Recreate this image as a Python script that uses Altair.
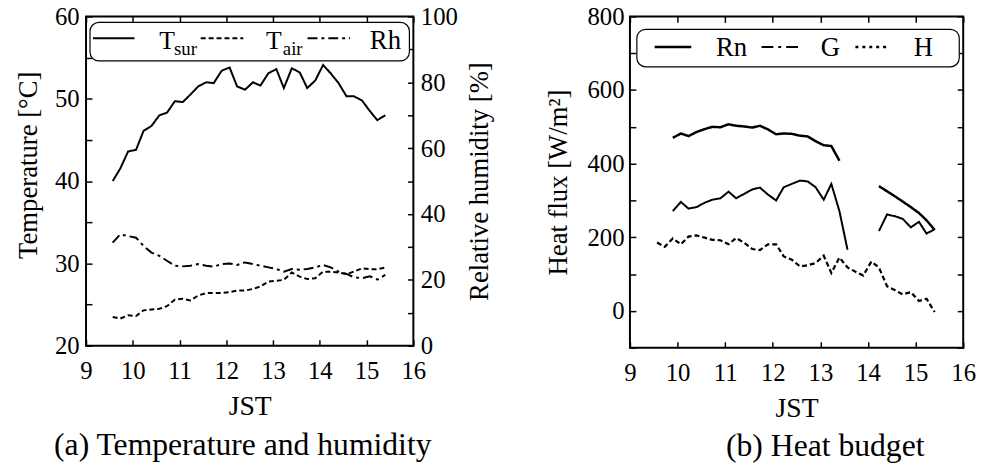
import altair as alt
import pandas as pd

FONT = "Liberation Serif"

# ---- data ----
times = [9.57, 9.73, 9.90, 10.07, 10.23, 10.40, 10.57, 10.73, 10.90, 11.07,
         11.23, 11.40, 11.57, 11.73, 11.90, 12.07, 12.23, 12.40, 12.57, 12.73,
         12.90, 13.07, 13.23, 13.40, 13.57, 13.73, 13.90, 14.07, 14.23, 14.40,
         14.57, 14.73, 14.90, 15.07, 15.23, 15.40]

t_sur = [40.0, 41.5, 43.6, 43.8, 46.1, 46.7, 48.0, 48.3, 49.7, 49.6,
         50.5, 51.5, 52.0, 51.9, 53.4, 53.8, 51.5, 51.1, 52.0, 51.6,
         53.1, 53.6, 51.3, 53.7, 53.2, 51.3, 52.2, 54.1, 53.1, 51.9,
         50.3, 50.3, 49.8, 48.5, 47.4, 48.0]
t_air = [23.5, 23.3, 23.7, 23.6, 24.3, 24.4, 24.5, 24.8, 25.6, 25.7,
         25.5, 26.1, 26.4, 26.4, 26.4, 26.5, 26.7, 26.7, 26.9, 27.2,
         27.8, 27.9, 28.0, 28.9, 28.4, 28.1, 28.2, 29.0, 29.0, 28.9,
         28.7, 29.0, 29.4, 29.3, 29.3, 29.5]
rh = [31.3, 33.8, 33.3, 32.8, 30.3, 28.3, 27.3, 25.8, 24.3, 24.1,
      24.3, 24.8, 24.3, 24.0, 24.8, 25.0, 24.5, 25.3, 24.8, 24.3,
      23.8, 23.3, 22.5, 23.3, 23.1, 23.3, 23.8, 24.5, 23.8, 22.5,
      21.8, 20.8, 20.5, 21.1, 20.1, 21.5]

rn = [None, None, 470, 482, 475, 486, 494, 500, 499, 507,
      503, 501, 498, 503, 493, 480, 482, 481, 476, 474,
      461, 450, 448, 408, None, None, None, None, 339, 325,
      311, 297, 282, 266, 246, 220]
g = [186, 174, 197, 181, 202, 205, 199, 193, 192, 181,
     198, 185, 168, 165, 181, 181, 148, 139, 121, 124,
     130, 150, 103, 145, 118, 107, 96, 134, 118, 67,
     56, 45, 51, 27, 33, -3]
h = [None, None, 271, 296, 278, 282, 294, 302, 306, 324,
     306, 318, 330, 335, 316, 300, 336, 345, 354, 352,
     336, 302, 345, 271, 166, None, None, None, 217, 262,
     257, 250, 227, 242, 210, 222]

hour_ticks = [9, 10, 11, 12, 13, 14, 15, 16]
temp_ticks = [20, 25, 30, 35, 40, 45, 50, 55, 60]
rh_ticks = [0, 10, 20, 30, 40, 50, 60, 70, 80, 90, 100]
flux_ticks = [-100, 0, 100, 200, 300, 400, 500, 600, 700, 800]


def long_df(series):
    rows = []
    for name, vals in series.items():
        seg = 0
        for t, v in zip(times, vals):
            if v is None:
                seg += 1
                continue
            rows.append({"JST": t, "value": v, "series": name, "seg": f"{name}-{seg}"})
    return pd.DataFrame(rows)


df_t = long_df({"T_sur": t_sur, "T_air": t_air})
df_rh = long_df({"Rh": rh})
df_b = long_df({"Rn": rn, "G": g, "H": h})
one = pd.DataFrame({"k": [0]})

TICK = 6
LBL = 25
TTL = 27
common = dict(labelFont=FONT, titleFont=FONT, labelFontSize=LBL, titleFontSize=TTL,
              labelColor="black", titleColor="black", tickColor="black", tickWidth=1.5,
              titleFontWeight="normal", grid=False, domain=False,
              tickSize=TICK, offset=-TICK)


def x_bottom():
    return alt.Axis(orient="bottom", values=hour_ticks, labelPadding=13, labelFlush=False,
                    labelOverlap=False, title="JST", titlePadding=10,
                    **{**common, "titleFontSize": 28})


def x_top():
    return alt.Axis(orient="top", values=hour_ticks, labels=False, title=None, **common)


xscale = alt.Scale(domain=[9, 16], nice=False, zero=False)


def legend_layers(box, items):
    layers = [alt.Chart(one).mark_rect(fill="white", stroke="black", strokeWidth=1.2,
                                       cornerRadius=9).encode(
        x=alt.value(box[0]), x2=alt.value(box[1]), y=alt.value(box[2]), y2=alt.value(box[3]))]
    for it in items:
        kind = it[0]
        if kind == "line":
            _, x1, x2, y, dash, w = it
            layers.append(alt.Chart(one).mark_rule(color="black", strokeWidth=w,
                                                   strokeDash=dash).encode(
                x=alt.value(x1), x2=alt.value(x2), y=alt.value(y)))
        else:
            _, x, y, txt, size = it
            layers.append(alt.Chart(one).mark_text(text=txt, font=FONT, fontSize=size,
                                                   align="left", baseline="alphabetic",
                                                   color="black").encode(
                x=alt.value(x), y=alt.value(y)))
    return layers


# ---- left panel ----
t_layer = alt.Chart(df_t).mark_line(color="black").encode(
    x=alt.X("JST:Q", scale=xscale, axis=x_bottom()),
    y=alt.Y("value:Q", scale=alt.Scale(domain=[20, 60], nice=False, zero=False),
            axis=alt.Axis(orient="left", values=temp_ticks, labelPadding=7,
                          labelExpr="datum.value % 10 == 0 ? datum.label : ''",
                          title="Temperature [°C]", titlePadding=12, titleY=150, **common)),
    strokeDash=alt.StrokeDash("series:N", scale=alt.Scale(domain=["T_sur", "T_air"],
                                                           range=[[1, 0], [5, 3]]), legend=None),
    strokeWidth=alt.value(2),
    detail="seg:N",
)

rh_layer = alt.Chart(df_rh).mark_line(color="black", strokeWidth=2, strokeDash=[10, 4, 3, 4]).encode(
    x=alt.X("JST:Q", scale=xscale, axis=x_top()),
    y=alt.Y("value:Q", scale=alt.Scale(domain=[0, 100], nice=False, zero=False),
            axis=alt.Axis(orient="right", values=rh_ticks, labelPadding=7,
                          labelExpr="datum.value % 20 == 0 ? datum.label : ''",
                          title="Relative humidity [%]", titleAngle=270, titleBaseline="top",
                          titlePadding=9, **common)),
    detail="seg:N",
)

left_legend = legend_layers(
    (4, 327, 6, 45),
    [("line", 7, 49, 22, [1, 0], 2),
     ("text", 74, 33, "T", 26), ("text", 89, 39, "sur", 19),
     ("line", 116, 159, 22, [5, 3], 2),
     ("text", 182, 33, "T", 26), ("text", 199, 39, "air", 19),
     ("line", 224, 267, 22, [10, 4, 3, 4], 2),
     ("text", 287, 33, "Rh", 27)])

left = alt.layer(t_layer, rh_layer, *left_legend).resolve_scale(
    y="independent").resolve_axis(x="independent", y="independent").properties(
    width=331, height=333,
    title=alt.TitleParams("(a) Temperature and humidity", orient="bottom", frame="group",
                          dx=-7, offset=9, font=FONT, fontSize=32, fontWeight="normal",
                          color="black"))

# ---- right panel ----
flux_scale = alt.Scale(domain=[-100, 800], nice=False, zero=False)
main = alt.Chart(df_b).mark_line(color="black").encode(
    x=alt.X("JST:Q", scale=xscale, axis=x_bottom()),
    y=alt.Y("value:Q", scale=flux_scale,
            axis=alt.Axis(orient="left", values=flux_ticks, labelPadding=6,
                          labelExpr="datum.value % 200 == 0 ? datum.label : ''",
                          title="Heat flux [W/m²]", titlePadding=15, **common)),
    strokeDash=alt.StrokeDash("series:N", scale=alt.Scale(domain=["Rn", "G", "H"],
                                                           range=[[1, 0], [12, 5, 3, 5], [3, 4]]),
                              legend=None),
    strokeWidth=alt.StrokeWidth("series:N", scale=alt.Scale(domain=["Rn", "G", "H"],
                                                             range=[2.5, 2, 2.5]), legend=None),
    detail="seg:N",
)
frame = alt.Chart(df_b).mark_point(opacity=0, size=1).encode(
    x=alt.X("JST:Q", scale=xscale, axis=x_top()),
    y=alt.Y("value:Q", scale=flux_scale,
            axis=alt.Axis(orient="right", values=flux_ticks, labels=False, title=None, **common)),
)

right_legend = legend_layers(
    (7, 333, 13, 51),
    [("line", 25, 62, 31, [1, 0], 2.5),
     ("text", 87, 40, "Rn", 27),
     ("line", 133, 172, 31, [12, 5, 3, 5], 2),
     ("text", 193, 40, "G", 27),
     ("line", 228, 262, 31, [3, 4], 2.5),
     ("text", 287, 40, "H", 27)])

right = alt.layer(main, frame, *right_legend).resolve_axis(
    x="independent", y="independent").properties(
    width=337, height=335,
    title=alt.TitleParams("(b) Heat budget", orient="bottom", frame="group",
                          dx=29, offset=9, font=FONT, fontSize=32, fontWeight="normal",
                          color="black"))

chart = alt.hconcat(left, right, spacing=50).properties(
    padding={"left": 14, "top": 1, "right": 5, "bottom": 0},
    background="white",
).configure(font=FONT).configure_view(stroke="black", strokeWidth=2)

chart.save("out.html", embed_options={"renderer": "svg", "actions": False})
